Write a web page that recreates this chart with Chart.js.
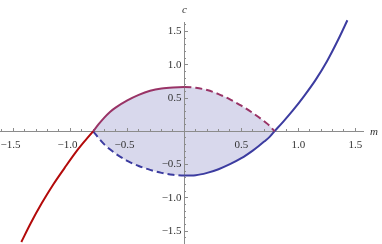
<!DOCTYPE html>
<html>
<head>
<meta charset="utf-8">
<script src="https://cdn.jsdelivr.net/npm/chart.js@4.4.1/dist/chart.umd.min.js"></script>
<style>
  html, body { margin: 0; padding: 0; background: #fff; }
  #wrap { width: 382px; height: 244px; position: relative; }
</style>
</head>
<body>
<div id="wrap"><canvas id="chart"></canvas></div>
<script>
'use strict';

/* ── Dados ── */
const redM  = [-1.43, -1.35, -1.25, -1.15, -1.05, -0.95, -0.87, -0.80];
const redC  = [-1.665, -1.39, -1.08, -0.80, -0.55, -0.31, -0.14, 0];

const arcM   = [-0.80, -0.75, -0.70, -0.65, -0.60, -0.50, -0.40, -0.30, -0.20, -0.10, 0,
                0.10, 0.20, 0.30, 0.40, 0.50, 0.60, 0.65, 0.70, 0.75, 0.79];
const upperC = [0, 0.11, 0.21, 0.295, 0.36, 0.465, 0.548, 0.61, 0.645, 0.66, 0.665,
                0.655, 0.62, 0.56, 0.48, 0.385, 0.275, 0.215, 0.15, 0.08, 0];
const lowerC = [0, -0.105, -0.20, -0.275, -0.34, -0.445, -0.522, -0.58, -0.625, -0.655, -0.665,
                -0.66, -0.625, -0.57, -0.495, -0.405, -0.29, -0.225, -0.155, -0.08, 0];

const blueM = [0.79, 0.87, 0.95, 1.05, 1.15, 1.25, 1.35, 1.43];
const blueC = [0, 0.15, 0.31, 0.53, 0.77, 1.05, 1.38, 1.67];

const X_TICKS = [-1.5, -1.0, -0.5, 0.5, 1.0, 1.5];
const Y_TICKS = [-1.5, -1.0, -0.5, 0.5, 1.0, 1.5];
const X_LABEL = 'm';
const Y_LABEL = 'c';

/* ── Estilo ── */
const RED    = '#b30a0a';
const PURPLE = '#993366';
const BLUE   = '#3c3ca0';
const FILL   = 'rgba(60, 60, 160, 0.2)';
const AXIS   = '#8c8c8c';
const TEXT   = '#333333';
const DASH   = [7, 4];
const FONT   = { family: '"Liberation Serif", "DejaVu Serif", serif', size: 11 };

const pts = (xs, ys) => xs.map((x, i) => ({ x, y: ys[i] }));

/* Rótulo com sinal de menos tipográfico, número centrado no tick */
function fmtTick(v) {
  const s = Math.abs(v).toFixed(1);
  return v < 0 ? '\u2212' + s + '\u2002' : s;
}

/* Eixos centrados não devem empurrar a área do gráfico */
function noPadding(s) {
  s.paddingTop = 0; s.paddingBottom = 0; s.paddingLeft = 0; s.paddingRight = 0;
}

function majorScale(axisPos, ticks, min, max, tickOpts) {
  return {
    type: 'linear',
    position: axisPos,
    min, max,
    afterBuildTicks: s => { s.ticks = ticks.map(v => ({ value: v })); },
    afterFit: noPadding,
    ticks: Object.assign({ color: TEXT, font: FONT, autoSkip: false, maxRotation: 0 }, tickOpts),
    grid: { drawOnChartArea: false, drawTicks: true, tickLength: -4, tickColor: AXIS, tickWidth: 1 },
    border: { display: true, color: AXIS, width: 1 },
  };
}

function minorScale(axisPos, min, max) {
  return {
    type: 'linear',
    position: axisPos,
    min, max,
    afterFit: noPadding,
    ticks: { display: false, stepSize: 0.1, includeBounds: false },
    grid: { drawOnChartArea: false, drawTicks: true, tickLength: -2, tickColor: AXIS, tickWidth: 1 },
    border: { display: false },
  };
}

const X_MIN = -1.617, X_MAX = 1.567;
const Y_MIN = -1.695, Y_MAX = 1.644;

/* Rótulos dos eixos (m, c) */
const axisTitles = {
  id: 'axisTitles',
  afterDraw(chart) {
    const { ctx, scales: { x, y } } = chart;
    const x0 = x.getPixelForValue(0);
    const y0 = y.getPixelForValue(0);
    ctx.save();
    ctx.fillStyle = TEXT;
    ctx.font = 'italic 11px "Liberation Serif", serif';
    ctx.textAlign = 'center';
    ctx.textBaseline = 'middle';
    ctx.fillText(X_LABEL, x.right + 11, y0 + 1);
    ctx.fillText(Y_LABEL, x0, y.top - 12);
    ctx.restore();
  },
};

new Chart(document.getElementById('chart'), {
  type: 'line',
  data: {
    datasets: [
      {
        data: pts(redM, redC),
        borderColor: RED, borderWidth: 2, pointRadius: 0,
        cubicInterpolationMode: 'monotone', fill: false, clip: false,
      },
      {
        /* arco superior: contínuo à esquerda, tracejado à direita */
        data: pts(arcM, upperC),
        borderColor: PURPLE, borderWidth: 2, pointRadius: 0,
        cubicInterpolationMode: 'monotone',
        fill: { target: '+1', above: FILL, below: FILL },
        segment: { borderDash: ctx => ctx.p0.parsed.x >= 0 ? DASH : undefined },
      },
      {
        /* arco inferior: tracejado à esquerda, contínuo à direita */
        data: pts(arcM, lowerC),
        borderColor: BLUE, borderWidth: 2, pointRadius: 0,
        cubicInterpolationMode: 'monotone', fill: false,
        segment: { borderDash: ctx => ctx.p1.parsed.x <= 0 ? DASH : undefined },
      },
      {
        data: pts(blueM, blueC),
        borderColor: BLUE, borderWidth: 2, pointRadius: 0,
        cubicInterpolationMode: 'monotone', fill: false, clip: false,
      },
    ],
  },
  options: {
    responsive: true,
    maintainAspectRatio: false,
    animation: false,
    layout: { padding: { left: 0, right: 19, top: 22, bottom: 0 } },
    plugins: {
      legend: { display: false },
      tooltip: { enabled: false },
      filler: { drawTime: 'beforeDraw' },
    },
    scales: {
      x:  majorScale({ y: 0 }, X_TICKS, X_MIN, X_MAX, { callback: fmtTick, padding: 11 }),
      x2: minorScale({ y: 0 }, X_MIN, X_MAX),
      y:  majorScale({ x: 0 }, Y_TICKS, Y_MIN, Y_MAX, { callback: v => fmtTick(v).trim() + ' ', padding: 4 }),
      y2: minorScale({ x: 0 }, Y_MIN, Y_MAX),
    },
  },
  plugins: [axisTitles],
});
</script>
</body>
</html>
